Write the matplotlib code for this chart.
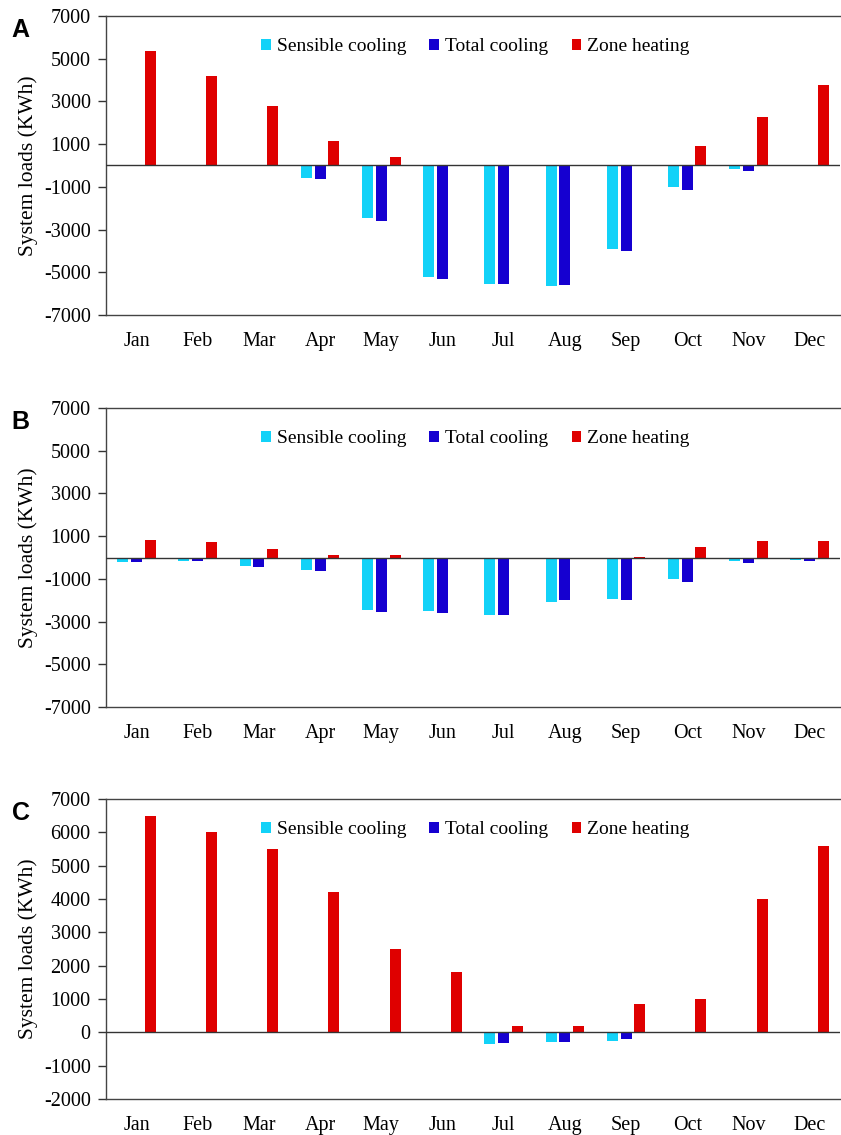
import numpy as np
import matplotlib
matplotlib.use('Agg')
import matplotlib.pyplot as plt

months = ['Jan', 'Feb', 'Mar', 'Apr', 'May', 'Jun', 'Jul', 'Aug', 'Sep', 'Oct', 'Nov', 'Dec']

# Panel A
a_sensible = [0, 0, 0, -600, -2450, -5200, -5550, -5650, -3900, -1000, -150, 0]
a_total = [0, 0, 0, -650, -2580, -5300, -5550, -5620, -4000, -1130, -250, 0]
a_heating = [5350, 4200, 2800, 1150, 420, 0, 0, 0, 0, 890, 2250, 3780]

# Panel B
b_sensible = [-200, -150, -400, -600, -2450, -2500, -2700, -2080, -1950, -1000, -150, -120]
b_total = [-200, -150, -440, -640, -2570, -2600, -2700, -2000, -2000, -1140, -250, -150]
b_heating = [800, 730, 400, 100, 100, 0, 0, 0, 40, 500, 750, 780]

# Panel C
c_sensible = [0, 0, 0, 0, 0, 0, -340, -280, -250, 0, 0, 0]
c_total = [0, 0, 0, 0, -20, -20, -320, -300, -200, 0, 0, 0]
c_heating = [6500, 6000, 5500, 4200, 2500, 1800, 200, 180, 850, 1000, 4000, 5600]

panels = [
    ('A', a_sensible, a_total, a_heating, (-7000, 7000), np.arange(-7000, 7001, 2000)),
    ('B', b_sensible, b_total, b_heating, (-7000, 7000), np.arange(-7000, 7001, 2000)),
    ('C', c_sensible, c_total, c_heating, (-2000, 7000), np.arange(-2000, 7001, 1000)),
]

plt.rcParams['font.family'] = ['Liberation Serif', 'DejaVu Serif']
plt.rcParams['axes.unicode_minus'] = False

fig = plt.figure(figsize=(8.41, 11.35), dpi=100)
boxes = [(0.7225, 0.9859), (0.3771, 0.6405), (0.0317, 0.2960)]

x = np.arange(len(months))
w = 0.18
off = 0.225
c_cyan = '#12D2F8'
c_blue = '#1500D0'
c_red = '#DF0000'

for (letter, sens, tot, heat, ylim, yticks), (b, t) in zip(panels, boxes):
    ax = fig.add_axes([0.126, b, 0.999 - 0.126, t - b])
    ax.bar(x - off, sens, w, color=c_cyan, label='Sensible cooling', zorder=2)
    ax.bar(x, tot, w, color=c_blue, label='Total cooling', zorder=2)
    ax.bar(x + off, heat, w, color=c_red, label='Zone heating', zorder=2)
    ax.axhline(0, color='#333333', lw=1.0, zorder=3)
    ax.set_xlim(-0.5, 11.5)
    ax.set_ylim(*ylim)
    ax.set_yticks(yticks)
    ax.set_xticks(x)
    ax.set_xticklabels(months)
    ax.tick_params(axis='x', length=0, pad=12, labelsize=14.5)
    ax.tick_params(axis='y', length=6, width=1, color='#333333', labelsize=14.5, pad=5)
    for s in ['left', 'top', 'bottom']:
        ax.spines[s].set_color('#444444')
        ax.spines[s].set_linewidth(1.0)
    ax.spines['right'].set_visible(False)
    ax.set_ylabel('System loads (KWh)', fontsize=15.5, labelpad=4)
    ax.legend(loc='upper center', ncol=3, frameon=False, fontsize=14,
              handlelength=0.5, handleheight=0.5, handletextpad=0.3,
              columnspacing=1.2, bbox_to_anchor=(0.503, 0.985))
    fig.text(0.014, t - 0.002, letter, fontsize=18, fontweight='bold',
             family=['Liberation Sans', 'DejaVu Sans'], va='top', ha='left')

fig.savefig('out.png', dpi=100)
plt.close(fig)
